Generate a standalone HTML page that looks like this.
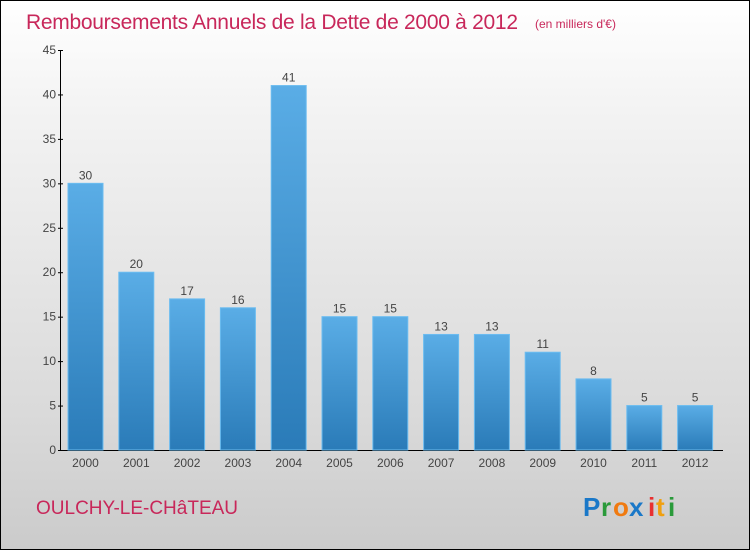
<!DOCTYPE html>
<html><head><meta charset="utf-8"><style>
body{margin:0}
#c{width:748px;height:548px;border:1px solid #000;background:linear-gradient(#fff,#f3f3f3 20%,#dadada 75%,#cbcbcb);position:relative;font-family:"Liberation Sans",sans-serif}
</style></head><body>
<div id="c">
<svg width="748" height="548">
<defs><linearGradient id="g" x1="0" y1="0" x2="0" y2="1"><stop offset="0" stop-color="#5aade6"/><stop offset="1" stop-color="#2a7bb8"/></linearGradient></defs>
<text x="25" y="28" font-size="21" fill="#c8275a" textLength="492">Remboursements Annuels de la Dette de 2000 à 2012</text>
<text x="534" y="27" font-size="12" fill="#c8275a">(en milliers d'€)</text>
<g id="ax"></g><g id="bars"></g>
<text x="35" y="513" font-size="19" fill="#c8275a">OULCHY-LE-CHâTEAU</text>
<g font-size="26" font-weight="bold"><text x="582" y="515" fill="#1a78c8">P</text><text x="600" y="515" fill="#2a9a3a">r</text><text x="612" y="515" fill="#f07a10">o</text><text x="628" y="515" fill="#1a78c8">x</text><text x="647" y="515" fill="#e83030">i</text><text x="655" y="515" fill="#f0a010">t</text><text x="667" y="515" fill="#2a9a3a">i</text></g>
</svg></div>
<script>
const years=["2000","2001","2002","2003","2004","2005","2006","2007","2008","2009","2010","2011","2012"];
const values=[30,20,17,16,41,15,15,13,13,11,8,5,5];
const yTicks=[0,5,10,15,20,25,30,35,40,45];
const NS="http://www.w3.org/2000/svg";
const y0=449,ymax=45,ph=400;
const y=v=>y0-v/ymax*ph;
const x=i=>84.5+i*50.8;
function mk(t,a,p){const e=document.createElementNS(NS,t);for(const k in a)e.setAttribute(k,a[k]);p.appendChild(e);return e;}
const ax=document.getElementById('ax'),bars=document.getElementById('bars');
const yl=mk('line',{x1:59.5,x2:59.5,y1:y(45),y2:y0,stroke:'#000'},ax);


const xl=mk('line',{x1:59.5,x2:722,y1:y0+0.5,y2:y0+0.5,stroke:'#000'},ax);


yTicks.forEach(t=>{
 mk('line',{x1:57,x2:62,y1:y(t)+0.5,y2:y(t)+0.5,stroke:'#000'},ax);
 const tx=mk('text',{x:55,y:y(t)+4,'font-size':12,fill:'#444','text-anchor':'end'},ax);
 tx.textContent=t;
 
 
});
values.forEach((v,i)=>{
 const r=mk('rect',{x:x(i)-17.5,y:y(v),width:35,height:y0-y(v),fill:'url(#g)',stroke:'#6bbcf0','stroke-width':1},bars);
 
 
 const l=mk('text',{x:x(i),y:y(v)-4,'font-size':12,fill:'#444','text-anchor':'middle'},bars);
 l.textContent=v;
 
 
 const xt=mk('text',{x:x(i),y:466,'font-size':12,fill:'#444','text-anchor':'middle'},ax);
 xt.textContent=years[i];
 
 
});
</script>
</body></html>
